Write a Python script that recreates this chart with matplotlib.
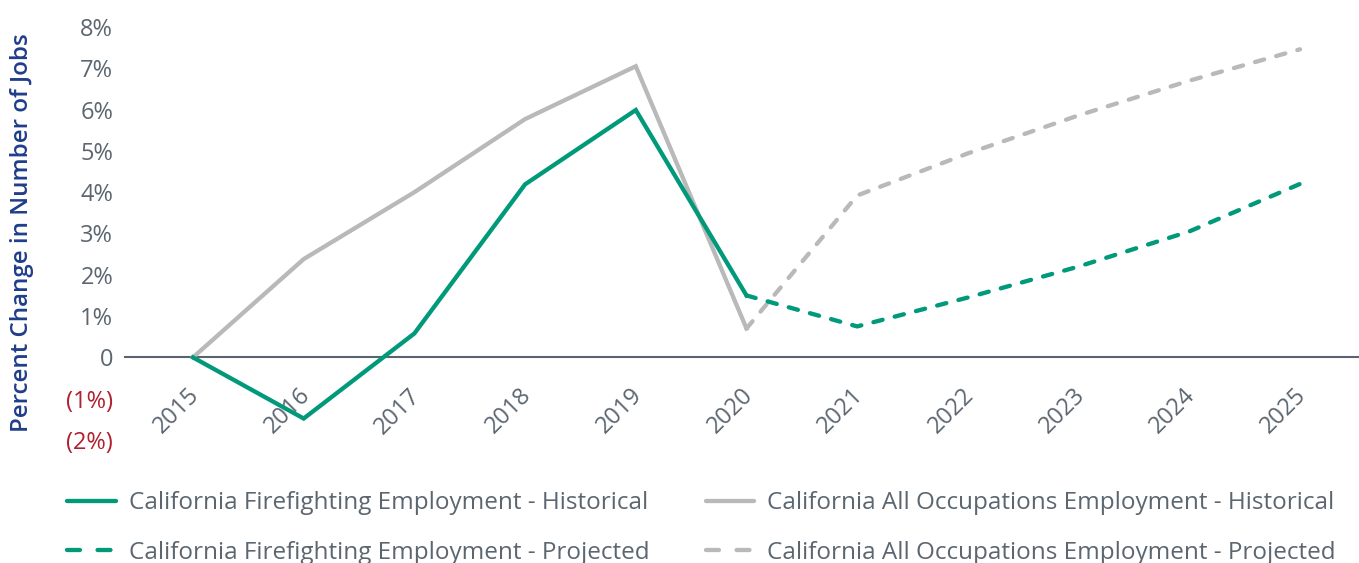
import matplotlib.pyplot as plt
from matplotlib.lines import Line2D
from matplotlib.transforms import ScaledTranslation

years = ["2015", "2016", "2017", "2018", "2019", "2020",
         "2021", "2022", "2023", "2024", "2025"]

# percent change in number of jobs
fire_hist = [0.0, -1.48, 0.58, 4.19, 5.99, 1.50]
fire_proj = [1.50, 0.75, 1.45, 2.20, 3.05, 4.20]
all_hist = [0.0, 2.38, 4.00, 5.77, 7.05, 0.70]
all_proj = [0.70, 3.92, 4.94, 5.86, 6.70, 7.46]

y_ticks = [-2, -1, 0, 1, 2, 3, 4, 5, 6, 7, 8]
y_labels = ["(2%)", "(1%)", "0", "1%", "2%", "3%", "4%", "5%", "6%", "7%", "8%"]

labels = ["California Firefighting Employment - Historical",
          "California Firefighting Employment - Projected",
          "California All Occupations Employment - Historical",
          "California All Occupations Employment - Projected"]

GREEN = "#00997a"
GRAY = "#b9b9b9"
TEXT = "#5b6670"
RED = "#b0202e"
BLUE = "#1f3d8a"

plt.rcParams["font.family"] = ["Open Sans", "DejaVu Sans"]


def main():
    fig = plt.figure(figsize=(13.59, 5.63), dpi=100)
    ax = fig.add_axes([125 / 1359, 1 - 440 / 563, 1 - 125 / 1359, (440 - 27) / 563])

    x_hist = list(range(len(fire_hist)))
    x_proj = list(range(len(fire_hist) - 1, len(years)))

    lw = 3.1
    dash = dict(linestyle=(0, (2.2, 2.9)), dash_capstyle="round", dash_joinstyle="round")
    ax.plot(x_hist, all_hist, color=GRAY, lw=lw, solid_joinstyle="miter")
    ax.plot(x_proj, all_proj, color=GRAY, lw=lw, **dash)
    ax.plot(x_hist, fire_hist, color=GREEN, lw=lw, solid_joinstyle="miter")
    ax.plot(x_proj, fire_proj, color=GREEN, lw=lw, **dash)

    ax.set_xlim(-0.614, len(years) - 1 + 0.533)
    ax.set_ylim(-2, 8)

    for s in ["top", "right", "left"]:
        ax.spines[s].set_visible(False)
    ax.spines["bottom"].set_position(("data", 0))
    ax.spines["bottom"].set_color("#5a646e")
    ax.spines["bottom"].set_linewidth(1.5)
    ax.spines["bottom"].set_zorder(0)

    ax.set_xticks(range(len(years)))
    ax.set_xticklabels(years, rotation=45, ha="right", va="baseline",
                       rotation_mode="anchor", fontsize=17, color=TEXT)
    ax.tick_params(axis="x", length=0, pad=28)
    shift = ScaledTranslation(7 / 100, 0, fig.dpi_scale_trans)
    for t in ax.get_xticklabels():
        t.set_transform(t.get_transform() + shift)

    ax.set_yticks(y_ticks)
    ax.set_yticklabels(y_labels, fontsize=17)
    ax.tick_params(axis="y", length=0, pad=8.5)
    for t, v in zip(ax.get_yticklabels(), y_ticks):
        t.set_color(RED if v < 0 else TEXT)

    fig.text(22 / 1359, 1 - 233 / 563, "Percent Change in Number of Jobs",
             rotation=90, ha="center", va="center", fontsize=17.4,
             color=BLUE, fontweight="semibold")

    # legend handles drawn with a longer dash like the original legend
    leg_dash = (0, (3.0, 4.1))
    handles = [
        Line2D([], [], color=GREEN, lw=lw, solid_capstyle="round"),
        Line2D([], [], color=GREEN, lw=lw, linestyle=leg_dash, dash_capstyle="round"),
        Line2D([], [], color=GRAY, lw=lw, solid_capstyle="round"),
        Line2D([], [], color=GRAY, lw=lw, linestyle=leg_dash, dash_capstyle="round"),
    ]
    fig.legend(handles, labels, ncol=2,
               loc="center left", bbox_to_anchor=(67 / 1359, 1 - 528 / 563),
               frameon=False, fontsize=17.5, labelcolor=TEXT,
               borderpad=0, borderaxespad=0,
               handlelength=2.0, handletextpad=0.55, columnspacing=2.3,
               labelspacing=1.05)

    fig.savefig("out.png", dpi=100)


if __name__ == "__main__":
    main()
